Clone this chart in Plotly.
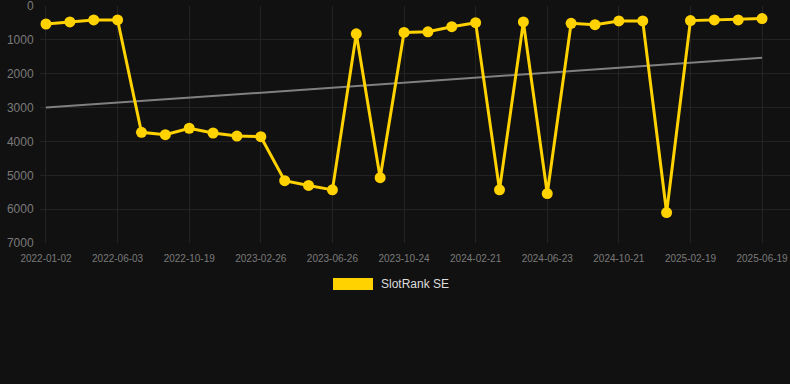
import plotly.graph_objects as go

dates = [
    "2022-01-02", "2022-02-21", "2022-04-12",
    "2022-06-03", "2022-07-19", "2022-09-03",
    "2022-10-19", "2022-12-02", "2023-01-14",
    "2023-02-26", "2023-04-06", "2023-05-16",
    "2023-06-26", "2023-08-05", "2023-09-14",
    "2023-10-24", "2023-12-03", "2024-01-12",
    "2024-02-21", "2024-04-01", "2024-05-12",
    "2024-06-23", "2024-08-02", "2024-09-11",
    "2024-10-21", "2024-11-30", "2025-01-09",
    "2025-02-19", "2025-03-31", "2025-05-10",
    "2025-06-19",
]
rank_se = [
    530, 470, 410, 410, 3730, 3800, 3610, 3750, 3840, 3860,
    5160, 5300, 5430, 820, 5070, 780, 760, 610, 490, 5430,
    470, 5540, 510, 550, 440, 440, 6100, 430, 410, 410, 370,
]
trend_dates = [dates[0], dates[-1]]
trend_values = [3000, 1530]
tick_labels = dates[::3]
y_ticks = [0, 1000, 2000, 3000, 4000, 5000, 6000, 7000]

YELLOW = "#FFD200"
BG = "#111111"
GRID = "#232323"

fig = go.Figure()
fig.add_trace(go.Scatter(
    x=trend_dates, y=trend_values, mode="lines",
    line=dict(color="#808080", width=2),
    showlegend=False, hoverinfo="skip",
))
fig.add_trace(go.Scatter(
    x=dates, y=rank_se, mode="lines+markers", name="SlotRank SE",
    line=dict(color=YELLOW, width=3),
    marker=dict(color=YELLOW, size=11),
    showlegend=False,
))

fig.update_layout(
    width=790, height=384,
    paper_bgcolor=BG, plot_bgcolor=BG,
    margin=dict(l=40, r=0, t=6, b=141),
    font=dict(family="Liberation Sans, Arial, sans-serif", color="#808080"),
    xaxis=dict(
        type="category", categoryorder="array", categoryarray=dates,
        range=[-0.251, 31.17],
        tickmode="array", tickvals=tick_labels, ticktext=tick_labels,
        tickfont=dict(size=10, color="#7a7a7a"),
        showgrid=True, gridcolor=GRID, gridwidth=1,
        zeroline=False, showline=False,
        ticks="outside", ticklen=6, tickcolor="rgba(0,0,0,0)",
        ticklabeloverflow="allow",
    ),
    yaxis=dict(
        range=[7000, -2],
        tickmode="array", tickvals=y_ticks,
        tickfont=dict(size=12, color="#7a7a7a"),
        showgrid=True, gridcolor=GRID, gridwidth=1,
        zeroline=False, showline=False,
        ticks="outside", ticklen=3, tickcolor="rgba(0,0,0,0)",
        ticklabeloverflow="allow",
    ),
    shapes=[dict(
        type="rect", xref="paper", yref="paper",
        x0=(333 - 40) / 750, x1=(373 - 40) / 750,
        y0=(384 - 141 - 290) / 237, y1=(384 - 141 - 278) / 237,
        fillcolor=YELLOW, line=dict(width=0),
    )],
    annotations=[dict(
        xref="paper", yref="paper",
        x=(379 - 40) / 750, y=(384 - 141 - 284) / 237,
        xanchor="left", yanchor="middle", showarrow=False,
        text="SlotRank SE", font=dict(size=12, color="#dddddd"),
    )],
)

fig.write_html(
    "out.html",
    config={"displayModeBar": False},
    post_script="document.body.style.margin='0';document.body.style.background='#111111';",
)
